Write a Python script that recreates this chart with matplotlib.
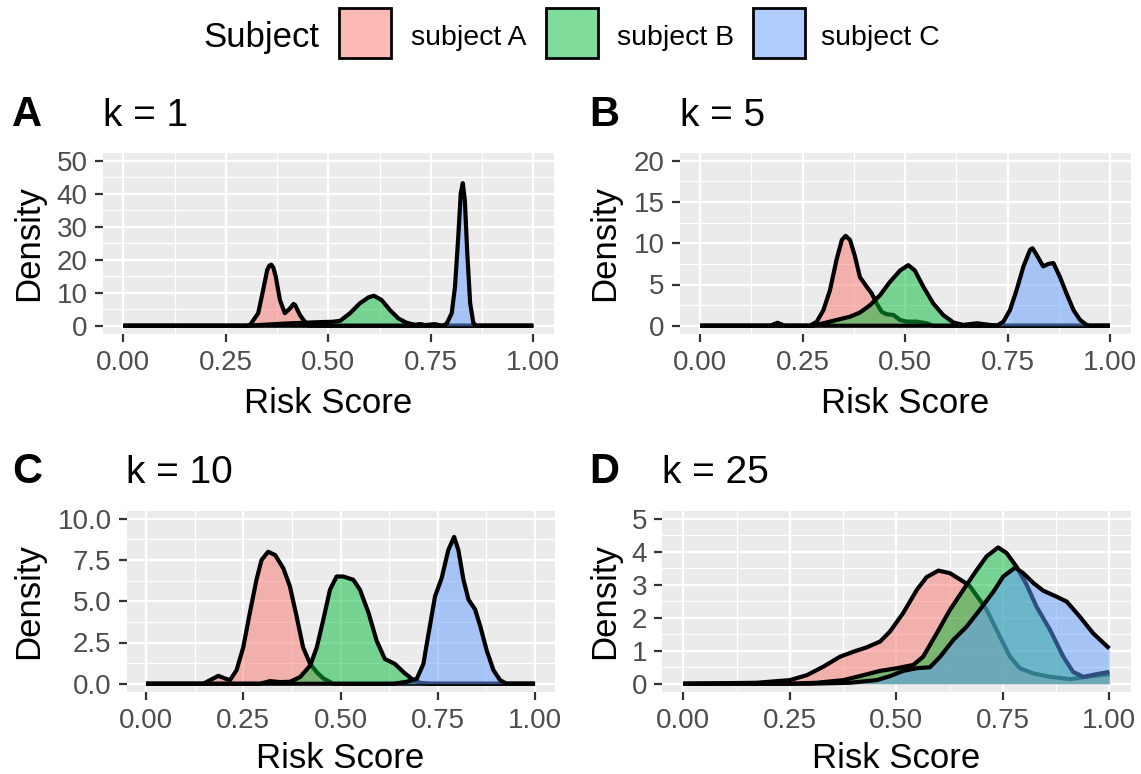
import matplotlib
matplotlib.use("Agg")
import matplotlib.pyplot as plt
from matplotlib.patches import Rectangle
from matplotlib.ticker import FormatStrFormatter, MultipleLocator

plt.rcParams['font.family'] = ['Liberation Sans', 'DejaVu Sans']

# ---- data (risk score vs density) ----
subjects = ["subject A", "subject B", "subject C"]
fills = ["#F8766D", "#00BA38", "#619CFF"]
panel_tags = ["A", "B", "C", "D"]
panel_titles = ["k = 1", "k = 5", "k = 10", "k = 25"]
y_maxes = [50, 20, 10, 5]
y_steps = [10, 5, 2.5, 1]
x_ticks = [0.0, 0.25, 0.5, 0.75, 1.0]

# k = 1
k1_x_a = [0.0, 0.30, 0.309, 0.329, 0.341, 0.351, 0.356, 0.361, 0.366, 0.372, 0.382, 0.394, 0.407,
          0.415, 0.419, 0.431, 0.443, 0.452, 1.0]
k1_y_a = [0, 0, 0.2, 3.8, 10.8, 16.9, 18.2, 18.5, 17.6, 14.8, 7.8, 3.8, 5.3, 6.6, 6.3, 3.2, 1.2, 0, 0]
k1_x_b = [0.0, 0.30, 0.33, 0.37, 0.40, 0.44, 0.48, 0.51, 0.529, 0.553, 0.577, 0.598, 0.611, 0.630,
          0.650, 0.671, 0.691, 0.711, 0.724, 0.737, 0.760, 0.776, 1.0]
k1_y_b = [0, 0, 0.2, 0.5, 0.7, 0.9, 1.1, 1.2, 1.5, 3.8, 6.8, 8.6, 9.1, 7.8, 4.8, 2.2, 0.9, 0.3, 0.5,
          0.2, 0.5, 0.0, 0]
k1_x_c = [0.0, 0.78, 0.789, 0.801, 0.809, 0.817, 0.823, 0.828, 0.833, 0.839, 0.846, 0.854, 0.862, 1.0]
k1_y_c = [0, 0, 0.7, 3.8, 11.8, 27.0, 40.1, 43.2, 38.1, 21.9, 6.8, 0.7, 0, 0]

# k = 5
k5_x_a = [0.0, 0.171, 0.189, 0.207, 0.268, 0.285, 0.301, 0.317, 0.333, 0.346, 0.355, 0.366, 0.378,
          0.390, 0.407, 0.419, 0.431, 0.443, 0.455, 0.472, 0.488, 0.504, 0.528, 0.553, 0.569, 1.0]
k5_y_a = [0, 0, 0.36, 0, 0, 0.5, 1.9, 4.3, 8.0, 10.4, 10.9, 10.4, 8.4, 5.9, 4.7, 3.9, 2.7, 1.7, 1.4,
          1.3, 0.7, 0.5, 0.5, 0.3, 0, 0]
k5_x_b = [0.0, 0.276, 0.301, 0.333, 0.366, 0.390, 0.415, 0.439, 0.463, 0.488, 0.508, 0.524, 0.545,
          0.569, 0.593, 0.618, 0.642, 0.675, 0.707, 0.732, 1.0]
k5_y_b = [0, 0, 0.3, 0.7, 1.1, 1.6, 2.5, 3.7, 5.3, 6.7, 7.35, 6.7, 4.7, 2.7, 1.3, 0.4, 0.1, 0.3, 0.1,
          0, 0]
k5_x_c = [0.0, 0.724, 0.740, 0.756, 0.772, 0.789, 0.805, 0.811, 0.821, 0.837, 0.850, 0.862, 0.878,
          0.894, 0.911, 0.927, 0.943, 0.951, 1.0]
k5_y_c = [0, 0, 0.5, 1.9, 4.3, 7.2, 9.2, 9.4, 8.6, 7.2, 7.5, 7.6, 5.9, 3.9, 1.9, 0.7, 0.1, 0, 0]

# k = 10
k10_x_a = [0.0, 0.147, 0.173, 0.186, 0.203, 0.216, 0.233, 0.250, 0.267, 0.284, 0.297, 0.314, 0.332,
           0.353, 0.370, 0.387, 0.404, 0.422, 0.439, 0.456, 0.482, 1.0]
k10_y_a = [0, 0, 0.32, 0.48, 0.32, 0.22, 0.83, 2.2, 4.3, 6.3, 7.5, 8.0, 7.8, 7.0, 5.9, 4.1, 2.2, 1.2,
           0.7, 0.32, 0, 0]
k10_x_b = [0.0, 0.293, 0.319, 0.344, 0.370, 0.396, 0.422, 0.439, 0.456, 0.473, 0.490, 0.507, 0.533,
           0.550, 0.572, 0.593, 0.614, 0.640, 0.662, 0.683, 0.704, 0.730, 1.0]
k10_y_b = [0, 0, 0.16, 0.1, 0.12, 0.4, 1.1, 2.2, 3.9, 5.7, 6.5, 6.5, 6.3, 5.7, 4.3, 2.6, 1.5, 1.2,
           0.7, 0.3, 0.06, 0, 0]
k10_x_c = [0.0, 0.636, 0.670, 0.696, 0.713, 0.726, 0.743, 0.760, 0.777, 0.792, 0.803, 0.816, 0.829,
           0.846, 0.859, 0.876, 0.893, 0.910, 0.927, 1.0]
k10_y_c = [0, 0, 0.12, 0.3, 1.2, 3.0, 5.3, 6.4, 8.1, 8.9, 8.1, 6.3, 5.1, 4.5, 3.5, 2.0, 0.83, 0.22, 0, 0]

# k = 25
k25_x_a = [0.0, 0.172, 0.25, 0.290, 0.329, 0.368, 0.399, 0.430, 0.462, 0.485, 0.516, 0.548, 0.571,
           0.599, 0.626, 0.657, 0.673, 0.696, 0.712, 0.728, 0.743, 0.767, 0.790, 0.822, 0.861, 0.908,
           0.947, 1.0]
k25_y_a = [0, 0.03, 0.11, 0.26, 0.52, 0.82, 0.97, 1.1, 1.28, 1.58, 2.14, 2.84, 3.23, 3.43, 3.35, 3.1,
           2.95, 2.54, 2.24, 1.83, 1.43, 0.82, 0.47, 0.31, 0.21, 0.14, 0.21, 0.29]
k25_x_b = [0.0, 0.25, 0.313, 0.376, 0.423, 0.462, 0.501, 0.540, 0.563, 0.595, 0.626, 0.657, 0.689,
           0.712, 0.739, 0.759, 0.782, 0.806, 0.829, 0.861, 0.892, 0.915, 0.939, 0.970, 1.0]
k25_y_b = [0, 0, 0.03, 0.11, 0.26, 0.39, 0.47, 0.57, 0.82, 1.53, 2.24, 2.84, 3.45, 3.86, 4.13, 3.96,
           3.55, 3.0, 2.34, 1.63, 0.82, 0.36, 0.21, 0.29, 0.36]
k25_x_c = [0.0, 0.30, 0.391, 0.454, 0.485, 0.516, 0.548, 0.579, 0.603, 0.634, 0.665, 0.696, 0.728,
           0.751, 0.779, 0.798, 0.822, 0.845, 0.876, 0.900, 0.931, 0.962, 1.0]
k25_y_c = [0, 0, 0.03, 0.11, 0.23, 0.39, 0.47, 0.5, 0.82, 1.33, 1.73, 2.24, 2.79, 3.25, 3.52, 3.35,
           3.05, 2.82, 2.64, 2.49, 2.03, 1.53, 1.07]

curves = [
    [(k1_x_a, k1_y_a), (k1_x_b, k1_y_b), (k1_x_c, k1_y_c)],
    [(k5_x_a, k5_y_a), (k5_x_b, k5_y_b), (k5_x_c, k5_y_c)],
    [(k10_x_a, k10_y_a), (k10_x_b, k10_y_b), (k10_x_c, k10_y_c)],
    [(k25_x_a, k25_y_a), (k25_x_b, k25_y_b), (k25_x_c, k25_y_c)],
]

# ---- layout (pixels of the 1141x774 canvas) ----
W, H = 1141, 774
def fx(px):
    return px / W
def fy(py):
    return 1 - py / H

# left, right, top, bottom of each panel
boxes = [(102.8, 553.8, 152.5, 334), (679.5, 1130.5, 152.5, 334),
         (126.5, 554.5, 510.5, 692), (662, 1130.6, 510.5, 692)]
tag_x = [12, 589, 12, 589]
title_base = [126, 126, 483, 483]
xlab_base = [413, 413, 768, 768]
ylab_x = [29, 605, 29, 605]

fig = plt.figure(figsize=(W / 100, H / 100), dpi=100)

for i, (l, r, t, b) in enumerate(boxes):
    ax = fig.add_axes([fx(l), fy(b), (r - l) / W, (b - t) / H])
    ax.set_facecolor("#EBEBEB")
    for s in ax.spines.values():
        s.set_visible(False)
    ymax = y_maxes[i]
    ax.set_xlim(-0.05, 1.05)
    ax.set_ylim(-0.05 * ymax, 1.05 * ymax)
    ax.set_xticks(x_ticks)
    ax.xaxis.set_minor_locator(MultipleLocator(0.125))
    ax.yaxis.set_major_locator(MultipleLocator(y_steps[i]))
    ax.yaxis.set_minor_locator(MultipleLocator(y_steps[i] / 2))
    ax.xaxis.set_major_formatter(FormatStrFormatter('%.2f'))
    if i == 2:
        ax.yaxis.set_major_formatter(FormatStrFormatter('%.1f'))
    else:
        ax.yaxis.set_major_formatter(FormatStrFormatter('%d'))
    ax.grid(which='major', color='white', lw=1.6)
    ax.grid(which='minor', color='white', lw=0.8)
    ax.set_axisbelow(True)
    ax.tick_params(which='major', length=5.8, width=1.6, color='#333333',
                   labelcolor='#4D4D4D', labelsize=20)
    ax.tick_params(axis='y', pad=5)
    ax.tick_params(axis='x', pad=6)
    ax.tick_params(which='minor', length=0)

    for j, (xs, ys) in enumerate(curves[i]):
        ax.fill_between(xs, ys, 0, color=fills[j], alpha=0.5, lw=0, zorder=3 + 2 * j)
        ax.plot(xs, ys, color='black', lw=3.0, zorder=4 + 2 * j,
                solid_capstyle='butt', solid_joinstyle='round')

    fig.text(fx(tag_x[i]), fy(title_base[i]), panel_tags[i], fontsize=30,
             fontweight='bold', va='baseline', ha='left')
    fig.text(fx(l), fy(title_base[i]), panel_titles[i], fontsize=28,
             va='baseline', ha='left')
    fig.text(fx(ylab_x[i]), fy((t + b) / 2), "Density", fontsize=25,
             rotation=90, va='center', ha='center')
    fig.text(fx((l + r) / 2), fy(xlab_base[i]), "Risk Score", fontsize=25,
             va='baseline', ha='center')

# legend on top
fig.text(fx(203), fy(47), "Subject", fontsize=25, va='baseline', ha='left')
key_x = [339, 546, 753]
lab_x = [411, 617, 821]
for j in range(3):
    fig.add_artist(Rectangle((fx(key_x[j]), fy(58)), 52 / W, 50 / H,
                             transform=fig.transFigure, facecolor=fills[j],
                             alpha=0.5, lw=0))
    fig.add_artist(Rectangle((fx(key_x[j]), fy(58)), 52 / W, 50 / H,
                             transform=fig.transFigure, facecolor='none',
                             edgecolor='black', lw=2.0))
    fig.text(fx(lab_x[j]), fy(45), subjects[j], fontsize=20.5, va='baseline', ha='left')

fig.savefig("out.png", dpi=100)
